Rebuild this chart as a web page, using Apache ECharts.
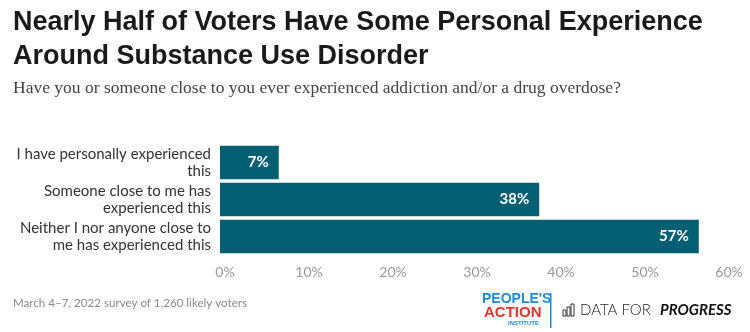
<!DOCTYPE html>
<html>
<head>
<meta charset="utf-8">
<script src="https://cdn.jsdelivr.net/npm/echarts@6/dist/echarts.min.js"></script>
<style>html,body{margin:0;padding:0;background:#fff}#c{width:750px;height:332px}</style>
</head>
<body>
<div id="c"></div>
<script>
const categories = [
  "I have personally experienced\nthis",
  "Someone close to me has\nexperienced this",
  "Neither I nor anyone close to\nme has experienced this"
];
const values = [7, 38, 57];
const axisTicks = [0, 10, 20, 30, 40, 50, 60];

const titleLines = ["Nearly Half of Voters Have Some Personal Experience", "Around Substance Use Disorder"];
const subtitle = "Have you or someone close to you ever experienced addiction and/or a drug overdose?";
const footnote = "March 4\u20137, 2022 survey of 1,260 likely voters";

const chart = echarts.init(document.getElementById('c'), null, {renderer: 'canvas'});
chart.setOption({
  animation: false,
  backgroundColor: '#ffffff',
  grid: {left: 220, right: 26, top: 144, height: 111},
  xAxis: {
    type: 'value',
    min: axisTicks[0],
    max: axisTicks[axisTicks.length - 1],
    interval: 10,
    axisLine: {show: false},
    axisTick: {show: false},
    splitLine: {show: false},
    axisLabel: {
      formatter: '{value}%',
      color: '#9a9a9a',
      fontFamily: 'Lato',
      fontSize: 14,
      margin: 10,
      padding: [0, 0, 0, 10]
    }
  },
  yAxis: {
    type: 'category',
    data: categories,
    inverse: true,
    axisLine: {show: false},
    axisTick: {show: false},
    axisLabel: {
      color: '#333333',
      fontFamily: 'Lato',
      fontSize: 15,
      lineHeight: 17,
      margin: 9,
      align: 'right'
    }
  },
  series: [{
    type: 'bar',
    data: values,
    barCategoryGap: '10%',
    itemStyle: {color: '#055f72'},
    label: {
      show: true,
      position: 'insideRight',
      distance: 10,
      formatter: p => Math.round(p.value) + '%',
      color: '#ffffff',
      fontFamily: 'Lato',
      fontWeight: 'bold',
      fontSize: 15
    }
  }],
  graphic: [
    {type: 'text', left: 13, top: 9, style: {text: titleLines[0], font: 'bold 27px "Liberation Sans"', fill: '#1a1a1a'}},
    {type: 'text', left: 13, top: 43, style: {text: titleLines[1], font: 'bold 27px "Liberation Sans"', fill: '#1a1a1a'}},
    {type: 'text', left: 13, top: 79, style: {text: subtitle, font: '17.5px "Liberation Serif"', fill: '#444444'}},
    {type: 'text', left: 13, top: 297, style: {text: footnote, font: '11.6px Lato', fill: '#8a8a8a'}},
    {type: 'text', left: 482, top: 292, style: {text: "PEOPLE'S", font: 'bold 14px "Liberation Sans Narrow", "Liberation Sans"', fill: '#1e8bd0'}},
    {type: 'text', left: 484, top: 305, style: {text: "ACTION", font: 'bold 15px "Liberation Sans Narrow", "Liberation Sans"', fill: '#e0362b'}},
    {type: 'text', left: 508, top: 320, style: {text: "INSTITUTE", font: 'bold 6px "Liberation Sans"', fill: '#1e8bd0'}},
    {type: 'rect', shape: {x: 550, y: 293, width: 1.5, height: 35}, style: {fill: '#1e8bd0'}},
    {type: 'rect', shape: {x: 563, y: 310, width: 3, height: 6}, style: {fill: 'none', stroke: '#333', lineWidth: 1}},
    {type: 'rect', shape: {x: 567, y: 307, width: 3, height: 9}, style: {fill: 'none', stroke: '#333', lineWidth: 1}},
    {type: 'rect', shape: {x: 571, y: 304, width: 3, height: 12}, style: {fill: 'none', stroke: '#333', lineWidth: 1}},
    {type: 'text', left: 580, top: 303, style: {text: "DATA FOR", font: '300 15px Lato', fill: '#222'}},
    {type: 'text', left: 660, top: 303, style: {text: "PROGRESS", font: 'italic bold 15px Lato', fill: '#111'}}
  ]
});
</script>
</body>
</html>
